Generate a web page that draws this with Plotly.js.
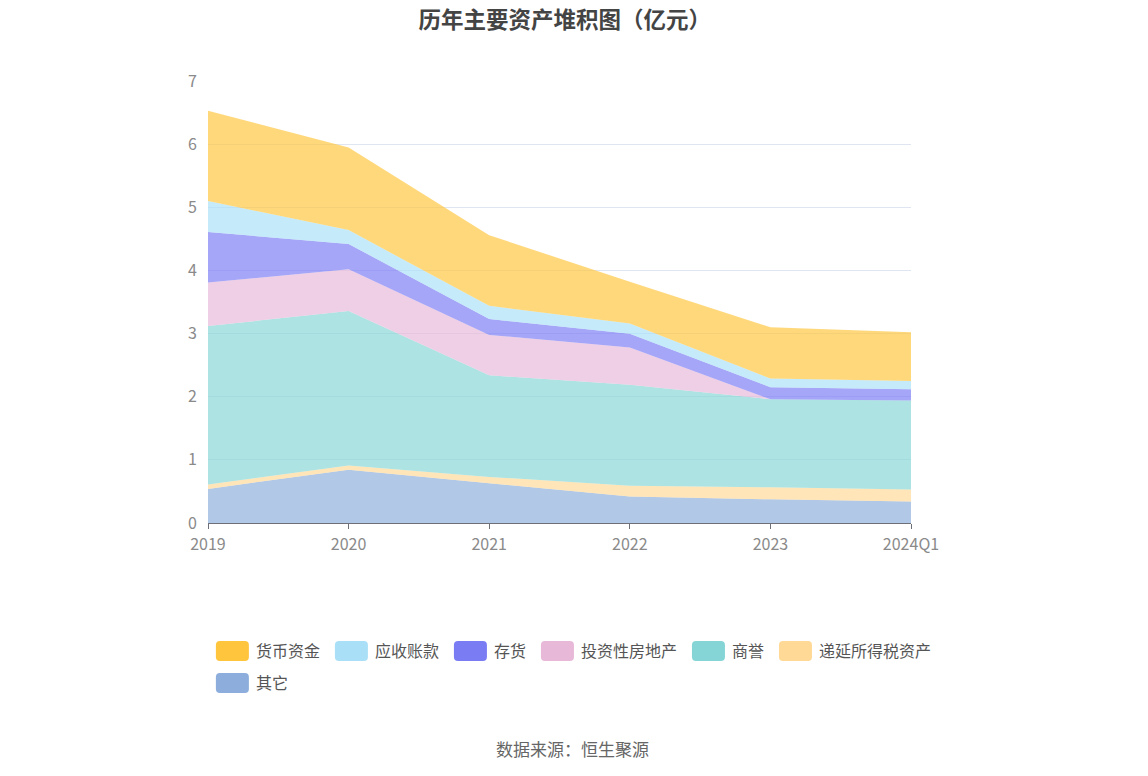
<!DOCTYPE html>
<html>
<head>
<meta charset="utf-8">
<script src="https://cdn.plot.ly/plotly-3.0.1.min.js"></script>
<style>html,body{margin:0;padding:0;background:#fff;}#chart{width:1148px;height:776px;}</style>
</head>
<body>
<div id="chart"></div>
<script>
const categories = ["2019", "2020", "2021", "2022", "2023", "2024Q1"];
const cash        = [1.43, 1.31, 1.12, 0.66, 0.81, 0.77];   // 货币资金
const receivables = [0.49, 0.22, 0.21, 0.16, 0.14, 0.13];   // 应收账款
const inventory   = [0.80, 0.40, 0.25, 0.22, 0.19, 0.18];   // 存货
const investProp  = [0.69, 0.66, 0.64, 0.59, 0.00, 0.00];   // 投资性房地产
const goodwill    = [2.51, 2.45, 1.61, 1.60, 1.395, 1.41];  // 商誉
const deferredTax = [0.07, 0.065, 0.10, 0.17, 0.19, 0.19];  // 递延所得税资产
const others      = [0.54, 0.845, 0.63, 0.42, 0.375, 0.34]; // 其它

const seriesNames = ["其它", "递延所得税资产", "商誉", "投资性房地产", "存货", "应收账款", "货币资金"];
const seriesData = [others, deferredTax, goodwill, investProp, inventory, receivables, cash];
const seriesColors = ["#8DAEDC", "#FFD995", "#86D5D6", "#E8B8D8", "#7A7CF4", "#A9E0F8", "#FFC53D"];

function hexToRgba(hex, a) {
  const n = parseInt(hex.slice(1), 16);
  return `rgba(${(n >> 16) & 255},${(n >> 8) & 255},${n & 255},${a})`;
}

const traces = seriesNames.map((name, i) => ({
  type: "scatter",
  mode: "lines",
  name: name,
  x: categories,
  y: seriesData[i],
  stackgroup: "one",
  legend: i === 0 ? "legend2" : "legend",
  line: {width: 0, color: seriesColors[i]},
  fillcolor: hexToRgba(seriesColors[i], 0.68),
  hovertemplate: name + ": %{y}<extra></extra>"
}));

const legendFont = {size: 16, color: "#555555"};

const layout = {
  width: 1148,
  height: 776,
  paper_bgcolor: "#ffffff",
  plot_bgcolor: "#ffffff",
  margin: {l: 208, r: 237, t: 81, b: 253},
  font: {family: "'Noto Sans CJK SC', 'Noto Sans', sans-serif", color: "#6E7079"},
  title: {
    text: "<b>历年主要资产堆积图（亿元）</b>",
    x: 0.492, xanchor: "center",
    y: 0.974, yanchor: "middle",
    font: {size: 22.5, color: "#444444"}
  },
  xaxis: {
    type: "category",
    range: [0, 5],
    showgrid: false,
    showline: true,
    linecolor: "#6E7079",
    linewidth: 1,
    ticks: "outside",
    ticklen: 5,
    tickcolor: "#6E7079",
    ticklabelstandoff: 2,
    tickfont: {size: 16, color: "#8a8a8a"},
    zeroline: false,
    fixedrange: true
  },
  yaxis: {
    range: [0, 7.002],
    dtick: 1,
    tick0: 0,
    showgrid: true,
    gridcolor: "#E0E6F1",
    showline: false,
    zeroline: false,
    ticks: "",
    ticklabelstandoff: 10,
    tickfont: {size: 16, color: "#8a8a8a"},
    fixedrange: true
  },
  legend: {
    orientation: "h",
    traceorder: "reversed",
    x: -0.003, xanchor: "left",
    y: -0.2896, yanchor: "middle",
    font: legendFont,
    itemwidth: 40,
    bgcolor: "rgba(0,0,0,0)"
  },
  legend2: {
    orientation: "h",
    x: -0.003, xanchor: "left",
    y: -0.362, yanchor: "middle",
    font: legendFont,
    itemwidth: 40,
    bgcolor: "rgba(0,0,0,0)"
  },
  showlegend: true,
  annotations: [{
    text: "数据来源：恒生聚源",
    xref: "paper", yref: "paper",
    x: 0.519, xanchor: "center",
    y: -0.511, yanchor: "middle",
    showarrow: false,
    font: {size: 17, color: "#666666"}
  }]
};

function styleLegendSwatches(gd) {
  const groups = gd.querySelectorAll("g.traces");
  groups.forEach(g => {
    const data = g.__data__;
    if (!data || !data[0] || !data[0].trace) return;
    const idx = data[0].trace.index;
    const color = seriesColors[idx];
    const fillPath = g.querySelector(".legendfill path");
    if (fillPath) {
      fillPath.setAttribute("d", "M14,-10h25a4,4 0 0 1 4,4v12a4,4 0 0 1 -4,4h-25a4,4 0 0 1 -4,-4v-12a4,4 0 0 1 4,-4z");
      fillPath.style.fill = color;
      fillPath.style.fillOpacity = 1;
    }
  });
}

Plotly.newPlot("chart", traces, layout, {displayModeBar: false, responsive: false}).then(gd => {
  styleLegendSwatches(gd);
});
</script>
</body>
</html>
